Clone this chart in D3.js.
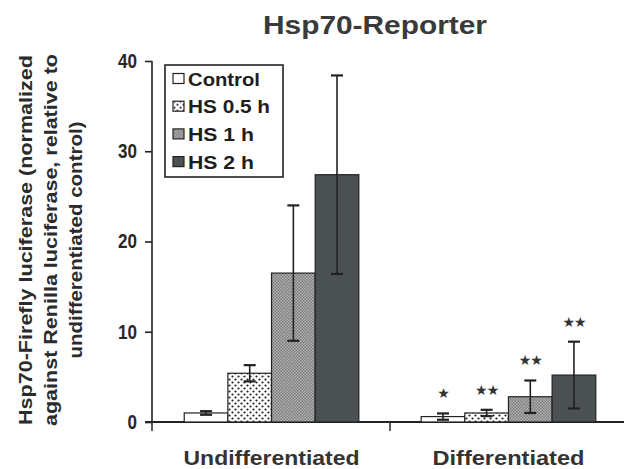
<!DOCTYPE html>
<html>
<head>
<meta charset="utf-8">
<script src="https://cdn.jsdelivr.net/npm/d3@7/dist/d3.min.js"></script>
<style>
  html, body { margin: 0; padding: 0; background: #fff; }
  svg { display: block; }
  text { font-family: "Liberation Sans", Arial, sans-serif; font-weight: bold; fill: #262626; }
</style>
</head>
<body>
<svg id="chart" width="624" height="469"></svg>
<script>
// Groups, treatments and measured values
const groups = ["Undifferentiated", "Differentiated"];
const treatments = ["Control", "HS 0.5 h", "HS 1 h", "HS 2 h"];
const undifferentiatedValues = [1.0, 5.4, 16.5, 27.4];
const undifferentiatedErrors = [0.2, 0.9, 7.5, 11.0];
const differentiatedValues = [0.6, 1.0, 2.8, 5.2];
const differentiatedErrors = [0.35, 0.35, 1.8, 3.7];
const differentiatedStars = ["*", "**", "**", "**"];
const yTicks = [0, 10, 20, 30, 40];
const yTitleLines = ["Hsp70-Firefly luciferase (normalized",
                     "against Renilla luciferase, relative to",
                     "undifferentiated control)"];

const rows = [];
groups.forEach((g, gi) => {
  const vals = gi === 0 ? undifferentiatedValues : differentiatedValues;
  const errs = gi === 0 ? undifferentiatedErrors : differentiatedErrors;
  treatments.forEach((t, ti) => {
    rows.push({ group: g, treatment: t, value: vals[ti], err: errs[ti],
                star: gi === 1 ? differentiatedStars[ti] : "" });
  });
});

const svg = d3.select("#chart");
const defs = svg.append("defs");

// Fill patterns for the treatments
const dots = defs.append("pattern").attr("id", "pDots")
  .attr("patternUnits", "userSpaceOnUse").attr("width", 6).attr("height", 6);
dots.append("rect").attr("width", 6).attr("height", 6).attr("fill", "#fff");
dots.append("circle").attr("cx", 1.5).attr("cy", 1.5).attr("r", 1.1).attr("fill", "#222");
dots.append("circle").attr("cx", 4.5).attr("cy", 4.5).attr("r", 1.1).attr("fill", "#222");

const check = defs.append("pattern").attr("id", "pCheck")
  .attr("patternUnits", "userSpaceOnUse").attr("width", 3).attr("height", 3);
check.append("rect").attr("width", 3).attr("height", 3).attr("fill", "#b4b4b4");
check.append("rect").attr("width", 1.5).attr("height", 1.5).attr("fill", "#7a7a7a");
check.append("rect").attr("x", 1.5).attr("y", 1.5).attr("width", 1.5).attr("height", 1.5).attr("fill", "#7a7a7a");

const fills = d3.scaleOrdinal()
  .domain(treatments)
  .range(["#ffffff", "url(#pDots)", "url(#pCheck)", "#4b5153"]);

// Scales
const x0 = d3.scaleBand().domain(groups).range([152, 628])
  .paddingInner(0.263).paddingOuter(0.136);
const x1 = d3.scaleBand().domain(treatments).range([0, x0.bandwidth()]);
const y = d3.scaleLinear().domain([0, 40]).range([422, 61]);

// Title
svg.append("text").attr("x", 375).attr("y", 34).attr("text-anchor", "middle")
  .attr("textLength", 224).attr("lengthAdjust", "spacingAndGlyphs")
  .style("font-size", "26px").style("fill", "#3a3a3a").text("Hsp70-Reporter");

// Y axis
const yAxis = d3.axisLeft(y).tickValues(yTicks).tickSize(7).tickPadding(8);
const gy = svg.append("g").attr("transform", "translate(152,0)").call(yAxis);
gy.select(".domain").attr("stroke", "#222").attr("stroke-width", 1.6)
  .attr("d", `M0,${y(0)}V${y(40)}`);
gy.selectAll(".tick line").attr("stroke", "#222").attr("stroke-width", 1.6);
gy.selectAll(".tick text").style("font-size", "20px")
  .style("font-family", "'Liberation Sans', Arial, sans-serif")
  .style("font-weight", "bold").attr("fill", "#262626")
  .attr("textLength", d => String(d).length * 9.5)
  .attr("lengthAdjust", "spacingAndGlyphs");

// X axis baseline with category separator ticks
const gx = svg.append("g");
gx.append("line").attr("x1", 145).attr("x2", 624).attr("y1", y(0)).attr("y2", y(0))
  .attr("stroke", "#222").attr("stroke-width", 1.8);
const sepTicks = [152, (x0(groups[0]) + x0.bandwidth() + x0(groups[1])) / 2];
gx.selectAll("line.sep").data(sepTicks).enter().append("line").attr("class", "sep")
  .attr("x1", d => d).attr("x2", d => d).attr("y1", y(0)).attr("y2", y(0) + 9)
  .attr("stroke", "#333").attr("stroke-width", 1.6);
gx.selectAll("text.cat").data(groups).enter().append("text").attr("class", "cat")
  .attr("x", d => x0(d) + x0.bandwidth() / 2)
  .attr("y", 465).attr("text-anchor", "middle")
  .attr("textLength", (d, i) => i === 0 ? 176 : 152)
  .attr("lengthAdjust", "spacingAndGlyphs")
  .style("font-size", "21px").style("fill", "#333").text(d => d);

// Bars
const bars = svg.append("g");
bars.selectAll("rect").data(rows).enter().append("rect")
  .attr("x", d => x0(d.group) + x1(d.treatment))
  .attr("y", d => y(d.value))
  .attr("width", x1.bandwidth())
  .attr("height", d => y(0) - y(d.value))
  .attr("fill", d => fills(d.treatment))
  .attr("stroke", "#222").attr("stroke-width", 1.2);

// Error bars
const eb = svg.append("g").attr("stroke", "#222").attr("stroke-width", 1.6);
rows.forEach(d => {
  const cx = x0(d.group) + x1(d.treatment) + x1.bandwidth() / 2;
  eb.append("line").attr("x1", cx).attr("x2", cx)
    .attr("y1", y(d.value - d.err)).attr("y2", y(d.value + d.err));
  [d.value + d.err, d.value - d.err].forEach(v => {
    eb.append("line").attr("x1", cx - 6).attr("x2", cx + 6)
      .attr("y1", y(v)).attr("y2", y(v)).attr("stroke-width", 2.2);
  });
});

// Significance marks
svg.append("g").selectAll("text").data(rows.filter(d => d.star)).enter().append("text")
  .attr("x", d => x0(d.group) + x1(d.treatment) + x1.bandwidth() / 2)
  .attr("y", d => y(d.value + d.err) - 15)
  .attr("text-anchor", "middle")
  .attr("letter-spacing", "-1px")
  .style("font-family", "'DejaVu Sans', sans-serif")
  .style("font-size", "14px").style("fill", "#333")
  .text(d => d.star.replace(/\*/g, "\u2605"));

// Legend
const legend = svg.append("g");
legend.append("rect").attr("x", 165).attr("y", 65).attr("width", 118).attr("height", 112)
  .attr("fill", "#fff").attr("stroke", "#222").attr("stroke-width", 1.6);
const items = legend.selectAll("g.item").data(treatments).enter().append("g")
  .attr("class", "item")
  .attr("transform", (d, i) => `translate(173,${78.5 + i * 27.7})`);
items.append("rect").attr("x", 0).attr("y", -5).attr("width", 11).attr("height", 10)
  .attr("fill", d => fills(d)).attr("stroke", "#222").attr("stroke-width", 1.2);
const legendWidths = [72, 82, 66, 66];
items.append("text").attr("x", 15).attr("y", 7)
  .attr("textLength", (d, i) => legendWidths[i])
  .attr("lengthAdjust", "spacingAndGlyphs")
  .style("font-size", "19px").style("fill", "#1e1e1e").text(d => d);

// Y axis title
const titleLengths = [370, 372, 237];
const yTitle = svg.append("text")
  .attr("transform", "translate(50,240) rotate(-90)")
  .attr("text-anchor", "middle")
  .style("font-size", "19px").style("fill", "#2b2b2b");
yTitleLines.forEach((line, i) => {
  yTitle.append("tspan").attr("x", 0).attr("y", -18 + i * 25)
    .attr("textLength", titleLengths[i]).attr("lengthAdjust", "spacingAndGlyphs")
    .text(line);
});
</script>
</body>
</html>
